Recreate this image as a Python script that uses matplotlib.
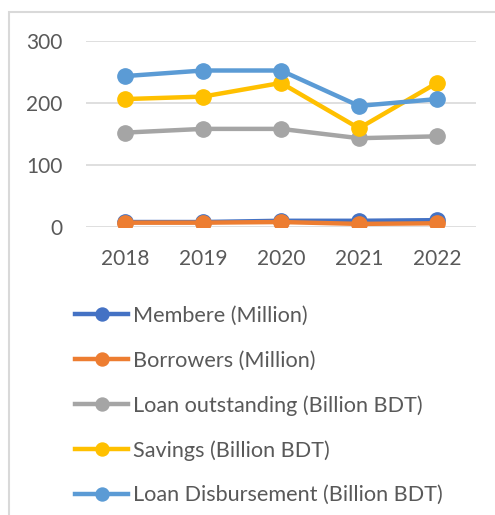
import matplotlib
matplotlib.use("Agg")
import matplotlib.pyplot as plt
from matplotlib.patches import Rectangle

# yearly figures read per series
years = ["2018", "2019", "2020", "2021", "2022"]
members = [8, 8, 10, 10, 11]
borrowers = [7, 7, 8, 5, 6]
loan_outstanding = [152, 158, 158, 143, 146]
savings = [206, 210, 232, 159, 232]
loan_disbursement = [243, 252, 252, 195, 206]

labels = ["Membere (Million)", "Borrowers (Million)",
          "Loan outstanding (Billion BDT)", "Savings (Billion BDT)",
          "Loan Disbursement (Billion BDT)"]
colors = ["#4472C4", "#ED7D31", "#A5A5A5", "#FFC000", "#5B9BD5"]
series = [members, borrowers, loan_outstanding, savings, loan_disbursement]

plt.rcParams['font.family'] = ['Lato', 'DejaVu Sans']
txt = "#595959"

fig = plt.figure(figsize=(4.95, 5.15), dpi=100)
ax = fig.add_axes([86/495, 1-227/515, 390/495, (227-40.7)/515])

x = range(len(years))
for vals, lab, c in zip(series, labels, colors):
    ax.plot(x, vals, color=c, lw=3.2, marker='o', ms=11, label=lab)

ax.set_xlim(-0.5, len(years) - 0.5)
ax.set_ylim(0, 300)
ax.set_yticks([0, 100, 200, 300])
ax.set_xticks(list(x), years)
ax.grid(axis='y', color='#D9D9D9', lw=1.2)
ax.set_axisbelow(True)
for s in ax.spines.values():
    s.set_visible(False)
ax.tick_params(axis='both', length=0, labelsize=15, colors=txt)
ax.tick_params(axis='y', pad=17)
ax.tick_params(axis='x', pad=16)

# chart area border
fig.patches.append(Rectangle((9/495, -0.1), 1.2, 1 - 12/515 + 0.1,
                             transform=fig.transFigure, fill=False,
                             edgecolor='#D9D9D9', lw=1.5))

fs = 15.6
leg = fig.legend(loc='upper left', bbox_to_anchor=(75/495, 1-306/515),
                 frameon=False, fontsize=fs, handlelength=2.45,
                 handletextpad=0.22, labelspacing=1.13, borderpad=0,
                 borderaxespad=0, markerscale=0.85)
for t in leg.get_texts():
    t.set_color(txt)

fig.savefig("out.png", dpi=100)
